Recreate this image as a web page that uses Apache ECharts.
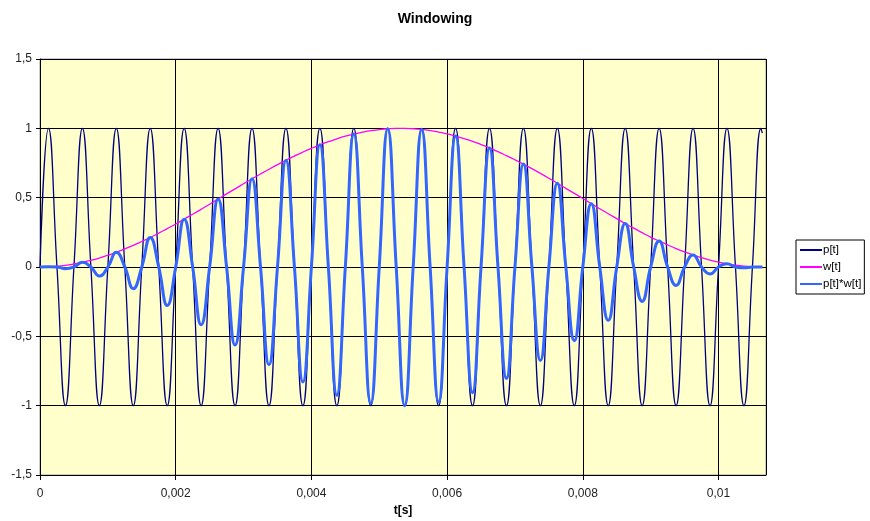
<!DOCTYPE html>
<html>
<head>
<meta charset="utf-8">
<title>Windowing</title>
<script src="https://cdn.jsdelivr.net/npm/echarts@6/dist/echarts.min.js"></script>
<style>
    html, body { margin: 0; padding: 0; background: #fff; }
    #chart { width: 870px; height: 521px; }
</style>
</head>
<body>
<div id="chart"></div>
<script>
// sample times [s], read at quarter periods of the 2 kHz tone
var tValues = [
    0, 0.000125, 0.00025, 0.000375, 0.0005, 0.000625, 0.00075, 0.000875,
    0.001, 0.001125, 0.00125, 0.001375, 0.0015, 0.001625, 0.00175, 0.001875,
    0.002, 0.002125, 0.00225, 0.002375, 0.0025, 0.002625, 0.00275, 0.002875,
    0.003, 0.003125, 0.00325, 0.003375, 0.0035, 0.003625, 0.00375, 0.003875,
    0.004, 0.004125, 0.00425, 0.004375, 0.0045, 0.004625, 0.00475, 0.004875,
    0.005, 0.005125, 0.00525, 0.005375, 0.0055, 0.005625, 0.00575, 0.005875,
    0.006, 0.006125, 0.00625, 0.006375, 0.0065, 0.006625, 0.00675, 0.006875,
    0.007, 0.007125, 0.00725, 0.007375, 0.0075, 0.007625, 0.00775, 0.007875,
    0.008, 0.008125, 0.00825, 0.008375, 0.0085, 0.008625, 0.00875, 0.008875,
    0.009, 0.009125, 0.00925, 0.009375, 0.0095, 0.009625, 0.00975, 0.009875,
    0.01, 0.010125, 0.01025, 0.010375, 0.0105, 0.010625, 0.010646
];
// p[t]
var pValues = [
    0, 1, 0, -1, 0, 1, 0, -1,
    0, 1, 0, -1, 0, 1, 0, -1,
    0, 1, 0, -1, 0, 1, 0, -1,
    0, 1, 0, -1, 0, 1, 0, -1,
    0, 1, 0, -1, 0, 1, 0, -1,
    0, 1, 0, -1, 0, 1, 0, -1,
    0, 1, 0, -1, 0, 1, 0, -1,
    0, 1, 0, -1, 0, 1, 0, -1,
    0, 1, 0, -1, 0, 1, 0, -1,
    0, 1, 0, -1, 0, 1, 0, -1,
    0, 1, 0, -1, 0, 1, 0.966
];
// w[t]
var wValues = [
    0, 0.001, 0.005, 0.012, 0.022, 0.034, 0.048, 0.065,
    0.085, 0.106, 0.130, 0.156, 0.184, 0.213, 0.244, 0.277,
    0.310, 0.345, 0.380, 0.416, 0.453, 0.490, 0.527, 0.563,
    0.600, 0.636, 0.671, 0.705, 0.738, 0.770, 0.800, 0.829,
    0.856, 0.881, 0.904, 0.924, 0.943, 0.959, 0.972, 0.983,
    0.991, 0.997, 1.000, 1.000, 0.997, 0.992, 0.984, 0.973,
    0.960, 0.944, 0.926, 0.906, 0.883, 0.859, 0.832, 0.803,
    0.773, 0.742, 0.709, 0.675, 0.640, 0.604, 0.567, 0.531,
    0.494, 0.457, 0.420, 0.384, 0.349, 0.314, 0.280, 0.248,
    0.216, 0.187, 0.159, 0.133, 0.109, 0.087, 0.067, 0.050,
    0.035, 0.023, 0.013, 0.006, 0.002, 0.000, 0.000
];
// p[t]*w[t]
var pwValues = [
    0, 0.001, 0, -0.012, 0, 0.034, 0, -0.065,
    0, 0.106, 0, -0.156, 0, 0.213, 0, -0.277,
    0, 0.345, 0, -0.416, 0, 0.490, 0, -0.563,
    0, 0.636, 0, -0.705, 0, 0.770, 0, -0.829,
    0, 0.881, 0, -0.924, 0, 0.959, 0, -0.983,
    0, 0.997, 0, -1.000, 0, 0.992, 0, -0.973,
    0, 0.944, 0, -0.906, 0, 0.859, 0, -0.803,
    0, 0.742, 0, -0.675, 0, 0.604, 0, -0.531,
    0, 0.457, 0, -0.384, 0, 0.314, 0, -0.248,
    0, 0.187, 0, -0.133, 0, 0.087, 0, -0.050,
    0, 0.023, 0, -0.006, 0, 0.000, 0
];
var seriesNames = ["p[t]", "w[t]", "p[t]*w[t]"];

var FONT = "Liberation Sans";

/**
 * @description 把 t 和数值拼成 [x, y] 点
 */
function pairs(values) {
    return tValues.map(function (t, i) { return [t, values[i]]; });
}
function commaNum(v) {
    return String(v).replace(".", ",");
}

var chart = echarts.init(document.getElementById("chart"));
chart.setOption({
    animation: false,
    backgroundColor: "#ffffff",
    title: {
        text: "Windowing",
        left: "center",
        top: 7,
        textStyle: { fontFamily: FONT, fontSize: 14, fontWeight: "bold", color: "#000" }
    },
    legend: {
        orient: "vertical",
        left: 796,
        top: 240,
        padding: [4, 3, 4, 3],
        itemGap: 5,
        itemWidth: 22,
        itemHeight: 12,
        borderColor: "#000",
        borderWidth: 1,
        backgroundColor: "#fff",
        itemStyle: { opacity: 0 },
        textStyle: { fontFamily: FONT, fontSize: 11.5, color: "#000", padding: [0, 0, 0, -4] },
        data: seriesNames
    },
    grid: {
        left: 40,
        top: 59,
        right: 104,
        bottom: 46,
        containLabel: false,
        outerBoundsMode: "none",
        show: true,
        backgroundColor: "#FFFFCC",
        borderColor: "#9a9a9a",
        borderWidth: 1
    },
    xAxis: {
        type: "value",
        min: 0,
        max: 0.0107,
        interval: 0.002,
        name: "t[s]",
        nameLocation: "middle",
        nameGap: 30,
        nameTextStyle: { fontFamily: FONT, fontSize: 12, fontWeight: "bold", color: "#000" },
        axisLine: { show: true, onZero: false, lineStyle: { color: "#000", width: 1 } },
        axisTick: { show: true, length: 5, lineStyle: { color: "#000" } },
        axisLabel: {
            fontFamily: FONT, fontSize: 12, color: "#222", margin: 13,
            showMaxLabel: false,
            formatter: commaNum
        },
        splitLine: { show: true, lineStyle: { color: "#000", width: 1 } }
    },
    yAxis: {
        type: "value",
        min: -1.5,
        max: 1.5,
        interval: 0.5,
        axisLine: { show: true, onZero: false, lineStyle: { color: "#000", width: 1 } },
        axisTick: { show: true, length: 4, lineStyle: { color: "#000" } },
        axisLabel: {
            fontFamily: FONT, fontSize: 12, color: "#222", margin: 8,
            formatter: commaNum
        },
        splitLine: { show: true, lineStyle: { color: "#000", width: 1 } }
    },
    series: [
        {
            name: seriesNames[0],
            type: "line",
            data: pairs(pValues),
            smooth: 0.5,
            symbol: "none",
            color: "#000080",
            lineStyle: { color: "#000080", width: 1.3 }
        },
        {
            name: seriesNames[1],
            type: "line",
            data: pairs(wValues),
            smooth: 0.5,
            symbol: "none",
            color: "#FF00FF",
            lineStyle: { color: "#FF00FF", width: 1.3 }
        },
        {
            name: seriesNames[2],
            type: "line",
            data: pairs(pwValues),
            smooth: 0.5,
            symbol: "none",
            color: "#3366FF",
            lineStyle: { color: "#3366FF", width: 3 }
        }
    ]
});
</script>
</body>
</html>
